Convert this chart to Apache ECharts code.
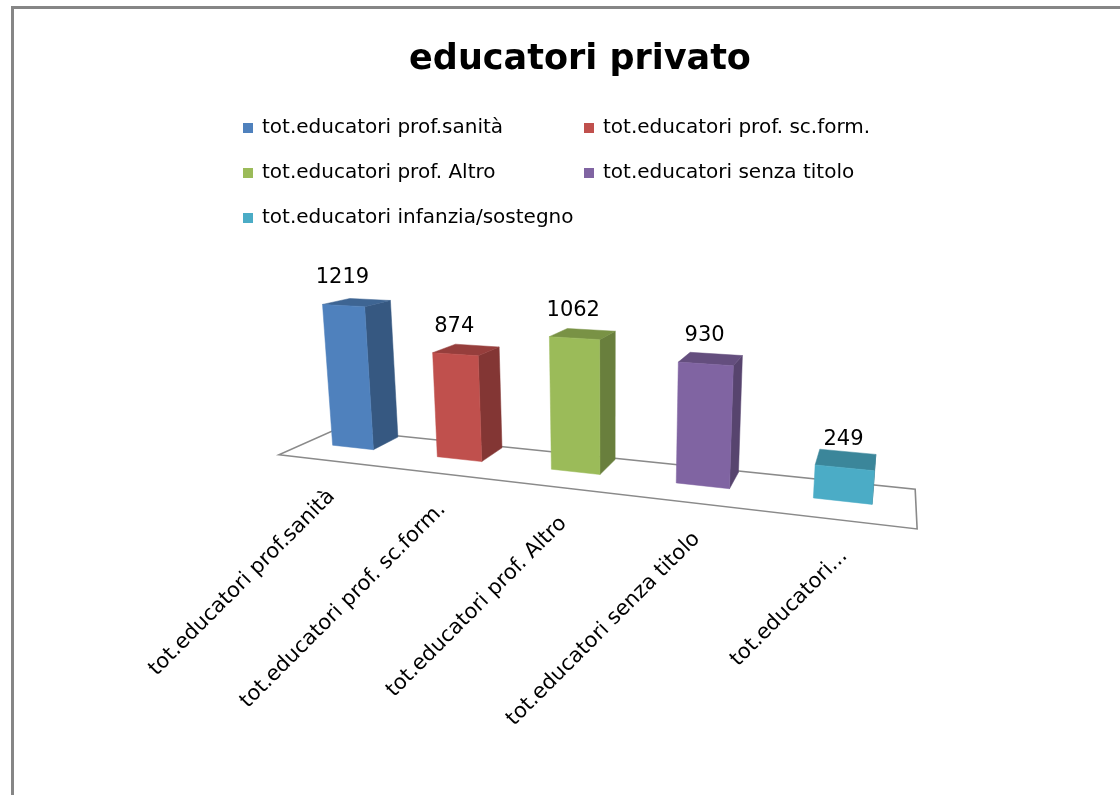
<!DOCTYPE html>
<html>
<head>
<meta charset="utf-8">
<script src="https://cdn.jsdelivr.net/npm/echarts@6/dist/echarts.min.js"></script>
<style>
  html, body { margin: 0; padding: 0; background: #fff; }
  #chart { width: 1120px; height: 795px; }
</style>
</head>
<body>
<div id="chart"></div>
<script>
// Chart data
const categories = [
  'tot.educatori prof.sanità',
  'tot.educatori prof. sc.form.',
  'tot.educatori prof. Altro',
  'tot.educatori senza titolo',
  'tot.educatori infanzia/sostegno'
];
const values = [1219, 874, 1062, 930, 249];
const colors = ['#4F81BD', '#C0504D', '#9BBB59', '#8064A2', '#4BACC6'];
const titleText = 'educatori privato';

const FONT = '"DejaVu Sans", "Open Sans", sans-serif';

// Perspective camera for the 3D column scene (world units: 1 = one category band)
const CAM = { cx: 610, cy: 368.5, f: 866, yaw: 18.1, pitch: 12.4, tx: -0.267, ty: -0.799, tz: 6.695 };
const VALUE_PER_UNIT = 1011;   // data value equal to one world unit of height
const BAR_WIDTH = 0.4;         // fraction of a category band
const BAR_DEPTH = 0.38;
const FLOOR_FRONT = -0.36;
const FLOOR_BACK = 0.41;
const FLOOR_LEFT = -2.46;
const FLOOR_RIGHT = 2.49;

function project(X, Y, Z) {
  const t = CAM.yaw * Math.PI / 180, p = CAM.pitch * Math.PI / 180;
  const x1 = X * Math.cos(t) + Z * Math.sin(t);
  const z1 = -X * Math.sin(t) + Z * Math.cos(t);
  const y2 = Y * Math.cos(p) + z1 * Math.sin(p);
  const d = -Y * Math.sin(p) + z1 * Math.cos(p);
  const xc = x1 + CAM.tx, yc = y2 + CAM.ty, dc = d + CAM.tz;
  return [CAM.cx + CAM.f * xc / dc, CAM.cy - CAM.f * yc / dc];
}

function shade(hex, k) {
  const n = parseInt(hex.slice(1), 16);
  const r = Math.round(((n >> 16) & 255) * k);
  const g = Math.round(((n >> 8) & 255) * k);
  const b = Math.round((n & 255) * k);
  return 'rgb(' + r + ',' + g + ',' + b + ')';
}

// signed area in screen space; faces listed counter-clockwise from outside are visible when negative
function area(pts) {
  let s = 0;
  for (let i = 0; i < pts.length; i++) {
    const a = pts[i], b = pts[(i + 1) % pts.length];
    s += a[0] * b[1] - b[0] * a[1];
  }
  return s;
}

function shortLabel(name) {
  return name.length > 30 ? name.split(' ')[0] + '...' : name;
}

function worldX(api, params, idx) {
  const band = api.size([1, 0])[0];
  const px = api.coord([idx, 0])[0];
  return (px - params.coordSys.x) / band - categories.length / 2;
}

function renderBar(params, api) {
  const idx = api.value(0);
  const val = api.value(1);
  const X = worldX(api, params, idx);
  const unitPx = api.size([0, VALUE_PER_UNIT])[1];
  const h = (api.coord([idx, 0])[1] - api.coord([idx, val])[1]) / unitPx;
  const color = api.visual('color');
  const x0 = X - BAR_WIDTH / 2, x1 = X + BAR_WIDTH / 2, z0 = 0, z1 = BAR_DEPTH;

  const faces = [
    { pts: [[x0, 0, z0], [x1, 0, z0], [x1, h, z0], [x0, h, z0]], fill: color, z: 3 },          // front
    { pts: [[x1, 0, z0], [x1, 0, z1], [x1, h, z1], [x1, h, z0]], fill: shade(color, 0.68), z: 2 }, // right
    { pts: [[x0, 0, z1], [x0, 0, z0], [x0, h, z0], [x0, h, z1]], fill: shade(color, 0.68), z: 2 }, // left
    { pts: [[x0, h, z0], [x1, h, z0], [x1, h, z1], [x0, h, z1]], fill: shade(color, 0.78), z: 2 }  // top
  ];
  const children = [];
  faces.forEach(f => {
    const sp = f.pts.map(q => project(q[0], q[1], q[2]));
    if (area(sp) < 0) {
      children.push({
        type: 'polygon', z2: f.z,
        shape: { points: sp },
        style: { fill: f.fill, stroke: f.fill, lineWidth: 0.5 }
      });
    }
  });

  const top = project(X, h, z0);
  children.push({
    type: 'text', z2: 5,
    x: top[0] - 1, y: top[1] - 28,
    style: {
      text: String(val), fontFamily: FONT, fontSize: 21, fill: '#000',
      align: 'center', verticalAlign: 'middle'
    }
  });

  const foot = project(X, 0, FLOOR_FRONT);
  children.push({
    type: 'text', z2: 5,
    x: foot[0] + 5, y: foot[1] + 33, rotation: Math.PI / 4,
    style: {
      text: shortLabel(categories[idx]), fontFamily: FONT, fontSize: 21, fill: '#000',
      align: 'right', verticalAlign: 'middle'
    }
  });
  return { type: 'group', children };
}

function renderFloor(params, api) {
  const pts = [
    [FLOOR_LEFT, 0, FLOOR_FRONT], [FLOOR_RIGHT, 0, FLOOR_FRONT],
    [FLOOR_RIGHT, 0, FLOOR_BACK], [FLOOR_LEFT, 0, FLOOR_BACK]
  ].map(q => project(q[0], q[1], q[2]));
  return {
    type: 'polygon',
    shape: { points: pts },
    style: { fill: '#fff', stroke: '#8a8a8a', lineWidth: 1.6 }
  };
}

const series = [{
  type: 'custom', name: 'floor', z: 1,
  renderItem: renderFloor, data: [[0, 0]], silent: true
}];
categories.forEach((name, i) => {
  series.push({
    type: 'custom', name: name, z: 2,
    itemStyle: { color: colors[i] },
    renderItem: renderBar,
    encode: { x: 0, y: 1 },
    data: [[i, values[i]]]
  });
});

const legendBase = {
  orient: 'vertical', padding: 0, itemGap: 23, itemWidth: 10, itemHeight: 10,
  icon: 'rect', selectedMode: false,
  textStyle: { fontFamily: FONT, fontSize: 20, color: '#000', lineHeight: 22, padding: [0, 0, 0, 4] }
};

const chart = echarts.init(document.getElementById('chart'), null, { renderer: 'canvas' });
chart.setOption({
  backgroundColor: '#fff',
  animation: false,
  color: colors,
  title: {
    text: titleText, left: 575, top: 34, textAlign: 'center',
    textStyle: { fontFamily: FONT, fontSize: 35, fontWeight: 'bold', color: '#000', lineHeight: 42 }
  },
  legend: [
    Object.assign({}, legendBase, { data: [categories[0], categories[2], categories[4]], left: 243, top: 117 }),
    Object.assign({}, legendBase, { data: [categories[1], categories[3]], left: 584, top: 117 })
  ],
  grid: { left: 0, top: 0, width: 500, height: 600, show: false },
  xAxis: { type: 'category', data: categories, show: false },
  yAxis: { type: 'value', min: 0, max: 1500, show: false },
  graphic: [{
    type: 'rect', silent: true, z: 0,
    shape: { x: 12.5, y: 7.5, width: 1200, height: 900 },
    style: { fill: 'none', stroke: '#868686', lineWidth: 3 }
  }],
  series: series
});
</script>
</body>
</html>
